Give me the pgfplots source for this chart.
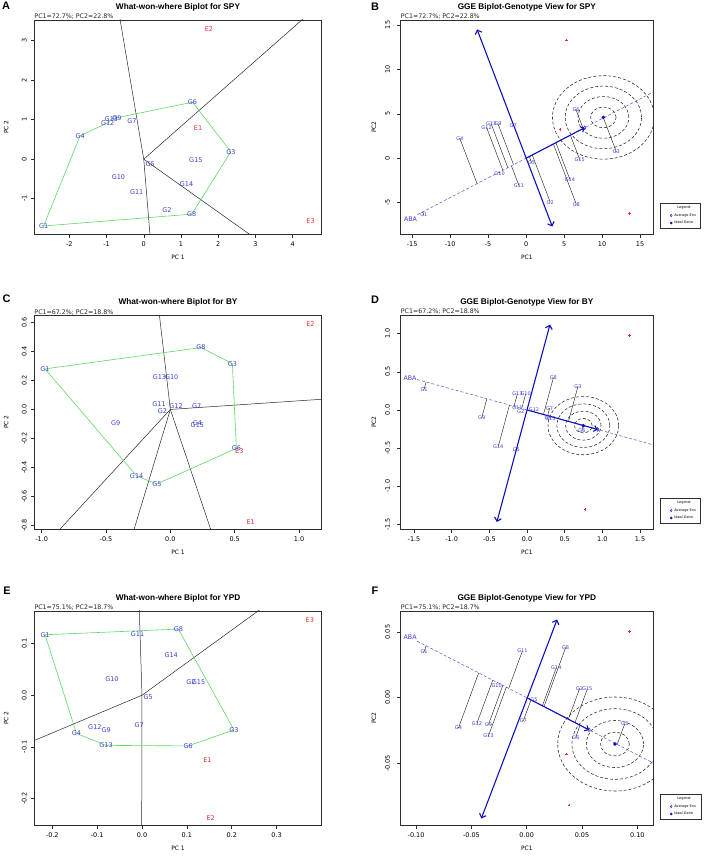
\documentclass[border=0pt]{standalone}
\usepackage{pgfplots}
\pgfplotsset{compat=1.18}
\usepackage{fontspec}
\setmainfont{DejaVu Sans}
\newfontfamily\titlefont{Liberation Sans}
\usetikzlibrary{arrows.meta}

\definecolor{lblue}{RGB}{60,60,215}
\definecolor{lred}{RGB}{225,45,45}
\definecolor{pgreen}{RGB}{95,215,95}
\definecolor{dblue}{RGB}{15,15,190}
\definecolor{ablue}{RGB}{95,95,210}
\definecolor{axgray}{RGB}{45,45,45}

\newcommand{\fs}[1]{\fontsize{#1}{#1}\selectfont}
\newcommand{\deco}[4]{%
  \node[anchor=base west, inner sep=0pt, font=\fs{6.3}, text=black!85, yshift=1bp] at (0,1) {#1};
  \node[anchor=center, inner sep=0pt, font=\titlefont\bfseries\fs{11}, xshift=#3bp, yshift=#4bp] at (0,1) {#2};
}
\newcommand{\lgd}{%
  \addlegendimage{empty legend}\addlegendentry{\hspace{3bp}Legend:}
  \addlegendimage{only marks, mark=diamond, mark size=1.2bp, dblue, mark options={line width=0.4pt}}\addlegendentry{Average Env}
  \addlegendimage{only marks, mark=*, mark size=1.1bp, dblue}\addlegendentry{Ideal Geno}
}
\tikzset{circ/.style={black!85, line width=0.55pt, dash pattern=on 3bp off 2bp}}

\pgfplotsset{
  rbase/.style={
    anchor=south west, scale only axis, enlargelimits=false, scaled ticks=false,
    axis line style={axgray, line width=0.7pt},
    tick pos=left, tick align=outside, major tick length=3.5bp,
    tick style={axgray, line width=0.5pt},
    /pgf/number format/assume math mode=true,
    ticklabel style={font=\fs{6.5}, inner sep=0pt},
    xticklabel style={anchor=north},
    yticklabel style={rotate=90, anchor=south},
    xticklabel shift=4bp,
    label style={font=\fs{6}},
    title style={font=\titlefont\bfseries\fs{8.3}, at={(0.5,1)}, anchor=base, yshift=5bp, inner sep=0pt},
    height=214.3bp,
  },
  wide/.style={rbase, width=287.4bp, yticklabel shift=4bp,
    xlabel style={at={(0.5,-0.1097)}, anchor=center},
    ylabel style={at={(-0.0974,0.5)}, anchor=center}},
  narrow/.style={rbase, width=252.3bp, yticklabel shift=7bp,
    xlabel style={at={(0.5,-0.1097)}, anchor=center},
    ylabel style={at={(-0.1058,0.5)}, anchor=center},
    legend style={at={(1,0)}, anchor=south west, xshift=7bp, yshift=6bp, font=\fs{3.5}, draw=axgray, line width=0.4pt, inner xsep=2.5bp, inner ysep=1bp, row sep=-0.6bp, cells={anchor=west}},
  },
  glab/.style={forget plot, only marks, mark=none, nodes near coords, nodes near coords align={center}, point meta=explicit symbolic, every node near coord/.append style={anchor=center, inner sep=0pt, font=\fs{#1}, text=lblue}},
  elab/.style={forget plot, only marks, mark=none, nodes near coords, nodes near coords align={center}, point meta=explicit symbolic, every node near coord/.append style={anchor=center, inner sep=0pt, font=\fs{#1}, text=lred}},
  ray/.style={forget plot, black!85, line width=0.5pt},
  poly/.style={forget plot, pgreen, line width=0.6pt},
  proj/.style={forget plot, black!85, line width=0.45pt, unbounded coords=jump},
  atc/.style={forget plot, ablue, line width=0.55pt, dash pattern=on 3bp off 2bp},
  dbl/.style={forget plot, dblue, line width=1.1pt, {Straight Barb[length=3.5bp,width=7bp]}-{Straight Barb[length=3.5bp,width=7bp]}},
  aec/.style={forget plot, dblue, line width=1.1pt, -{Straight Barb[length=3bp,width=6bp]}},
  envm/.style={forget plot, only marks, mark=+, mark size=1.4bp, mark options={draw=lred, line width=0.5pt}},
  ideal/.style={forget plot, only marks, mark=*, mark size=1.6bp, dblue},
  avg/.style={forget plot, only marks, mark=diamond, mark size=1.8bp, dblue, mark options={line width=0.5pt, fill=white}},
}

\begin{document}
\begin{tikzpicture}[x=1bp,y=1bp]
\path[use as bounding box] (0bp,0bp) rectangle (708bp,857bp);

%%%%%%%%%%%%%%%%%%%% A
\begin{axis}[wide, at={(34.3bp,622.7bp)}, xmin=-2.94, xmax=4.78, ymin=-1.90, ymax=3.52,
  xtick={-2,-1,0,1,2,3,4}, ytick={-1,0,1,2,3},
  title={What-won-where Biplot for SPY}, xlabel={PC 1}, ylabel={PC 2},
  extra description/.code={\deco{PC1=72.7\%; PC2=22.8\%}{A}{-28.3}{13.8}}]
\addplot[ray] coordinates {(0,0) (-0.76,4.22)};
\addplot[ray] coordinates {(0,0) (0.20,-2.28)};
\addplot[ray] coordinates {(0,0) (5.09,4.22)};
\addplot[ray] coordinates {(0,0) (3.41,-2.28)};
\addplot[poly] coordinates {(-2.69,-1.69) (-1.71,0.59) (-0.97,0.92) (-0.87,1.02) (1.31,1.44) (2.34,0.19) (1.29,-1.39) (-2.69,-1.69)};
\addplot[glab=6.5] table[meta=l] {
x y l
-2.69 -1.69 G1
0.62 -1.29 G2
2.34 0.19 G3
-1.71 0.59 G4
0.17 -0.13 G5
1.31 1.44 G6
-0.32 0.97 G7
1.29 -1.39 G8
-0.72 1.03 G9
-0.68 -0.45 G10
-0.19 -0.83 G11
-0.97 0.92 G12
-0.87 1.02 G13
1.15 -0.62 G14
1.40 -0.03 G15
};
\addplot[elab=6.5] table[meta=l] {
x y l
1.46 0.79 E1
1.75 3.29 E2
4.48 -1.58 E3
};
\end{axis}

%%%%%%%%%%%%%%%%%%%% B
\begin{axis}[narrow, at={(400.7bp,622.7bp)}, xmin=-16.5, xmax=16.7, ymin=-8.57, ymax=15.56,
  xtick={-15,-10,-5,0,5,10,15}, ytick={-5,0,5,10,15},
  title={GGE Biplot-Genotype View for SPY}, xlabel={PC1}, ylabel={PC2},
  extra description/.code={\deco{PC1=72.7\%; PC2=22.8\%}{B}{-25.7}{13}}]
\lgd
\draw[circ] (axis cs:10.17,4.59) ellipse [x radius=1.675, y radius=1.175];
\draw[circ] (axis cs:10.17,4.59) ellipse [x radius=3.35, y radius=2.35];
\draw[circ] (axis cs:10.17,4.59) ellipse [x radius=5.025, y radius=3.525];
\draw[circ] (axis cs:10.17,4.59) ellipse [x radius=6.7, y radius=4.7];
\addplot[atc] coordinates {(-14.3,-6.36) (17.5,7.79)};
\addplot[proj] coordinates {(-13.46,-6.39) (-13.61,-6.06) (nan,nan)
 (-8.72,2.22) (-6.45,-2.87) (nan,nan)
 (-5.2,3.46) (-3.055,-1.36) (nan,nan)
 (-4.6,3.87) (-2.40,-1.07) (nan,nan)
 (-3.7,3.87) (-1.65,-0.73) (nan,nan)
 (-3.49,-1.69) (-3.54,-1.58) (nan,nan)
 (-0.94,-3.08) (-1.93,-0.86) (nan,nan)
 (0.72,-0.49) (0.42,0.19) (nan,nan)
 (3.18,-4.96) (0.81,0.36) (nan,nan)
 (5.77,-2.41) (3.92,1.745) (nan,nan)
 (6.61,-5.19) (3.59,1.60) (nan,nan)
 (7.05,-0.15) (5.83,2.59) (nan,nan)
 (6.57,5.45) (7.51,3.34) (nan,nan)
 (11.88,0.71) (10.18,4.53)};
\addplot[dbl] coordinates {(-6.45,14.5) (3.45,-7.7)};
\addplot[aec] coordinates {(0,0) (7.71,3.43)};
\addplot[avg] coordinates {(7.71,3.43)};
\addplot[ideal] coordinates {(10.17,4.59)};
\addplot[envm] coordinates {(5.34,13.31) (13.59,-6.24) (4.46,3.23)};
\addplot[glab=5] table[meta=l] {
x y l
-13.46 -6.39 G1
3.18 -4.96 G2
11.88 0.71 G3
-8.72 2.22 G4
0.72 -0.49 G5
6.57 5.45 G6
-1.69 3.61 G7
6.61 -5.19 G8
-3.70 3.87 G9
-3.49 -1.69 G10
-0.94 -3.08 G11
-5.20 3.46 G12
-4.60 3.87 G13
5.77 -2.41 G14
7.05 -0.15 G15
};
\addplot[glab=6.3] table[meta=l] {
x y l
-15.2 -6.9 ABA
};
\end{axis}

%%%%%%%%%%%%%%%%%%%% C
\begin{axis}[wide, at={(34.3bp,327.7bp)}, xmin=-1.057, xmax=1.176, ymin=-0.825, ymax=0.650,
  xtick={-1,-0.5,0,0.5,1}, ytick={-0.8,-0.6,-0.4,-0.2,0,0.2,0.4,0.6},
  xticklabel style={/pgf/number format/fixed, /pgf/number format/fixed zerofill, /pgf/number format/precision=1},
  yticklabel style={/pgf/number format/fixed, /pgf/number format/fixed zerofill, /pgf/number format/precision=1},
  title={What-won-where Biplot for BY}, xlabel={PC 1}, ylabel={PC 2},
  extra description/.code={\deco{PC1=67.2\%; PC2=18.8\%}{C}{-27.6}{16.7}}]
\addplot[ray] coordinates {(0,0) (-0.102,0.78)};
\addplot[ray] coordinates {(0,0) (1.41,0.084)};
\addplot[ray] coordinates {(0,0) (0.376,-0.99)};
\addplot[ray] coordinates {(0,0) (-0.338,-0.99)};
\addplot[ray] coordinates {(0,0) (-1.03,-0.99)};
\addplot[poly] coordinates {(-0.974,0.279) (0.238,0.426) (0.482,0.315) (0.513,-0.268) (-0.104,-0.513) (-0.262,-0.458) (-0.974,0.279)};
\addplot[glab=6.5] table[meta=l] {
x y l
-0.974 0.279 G1
-0.062 -0.015 G2
0.482 0.315 G3
0.21 -0.095 G4
-0.104 -0.513 G5
0.513 -0.268 G6
0.205 0.026 G7
0.238 0.426 G8
-0.425 -0.095 G9
0.01 0.219 G10
-0.088 0.036 G11
0.044 0.022 G12
-0.085 0.219 G13
-0.262 -0.458 G14
0.21 -0.111 G15
};
\addplot[elab=6.5] table[meta=l] {
x y l
0.624 -0.779 E1
1.088 0.586 E2
0.536 -0.284 E3
};
\end{axis}

%%%%%%%%%%%%%%%%%%%% D
\begin{axis}[narrow, at={(400.7bp,327.7bp)}, xmin=-1.677, xmax=1.673, ymin=-1.566, ymax=1.246,
  xtick={-1.5,-1,-0.5,0,0.5,1,1.5}, ytick={-1.5,-1,-0.5,0,0.5,1},
  xticklabel style={/pgf/number format/fixed, /pgf/number format/fixed zerofill, /pgf/number format/precision=1},
  yticklabel style={/pgf/number format/fixed, /pgf/number format/fixed zerofill, /pgf/number format/precision=1},
  title={GGE Biplot-Genotype View for BY}, xlabel={PC1}, ylabel={PC2},
  extra description/.code={\deco{PC1=67.2\%; PC2=18.8\%}{D}{-25.7}{15.7}}]
\lgd
\draw[circ] (axis cs:0.748,-0.206) ellipse [x radius=0.117, y radius=0.095];
\draw[circ] (axis cs:0.748,-0.206) ellipse [x radius=0.235, y radius=0.19];
\draw[circ] (axis cs:0.748,-0.206) ellipse [x radius=0.352, y radius=0.286];
\draw[circ] (axis cs:0.748,-0.206) ellipse [x radius=0.469, y radius=0.382];
\addplot[atc] coordinates {(-1.46,0.40) (1.75,-0.478)};
\addplot[proj] coordinates {(-1.367,0.268) (-1.340,0.366) (nan,nan)
 (-0.602,-0.105) (-0.533,0.146) (nan,nan)
 (-0.381,-0.478) (-0.233,0.064) (nan,nan)
 (-0.128,0.21) (-0.1725,0.047) (nan,nan)
 (-0.018,0.21) (-0.070,0.019) (nan,nan)
 (0.35,0.421) (0.2187,-0.0597) (nan,nan)
 (0.677,0.311) (0.551,-0.1505) (nan,nan)
 (0.30,0.022) (0.2736,-0.0747) (nan,nan)
 (0.73,-0.268) (0.7475,-0.204)};
\addplot[dbl] coordinates {(0.305,1.12) (-0.40,-1.47)};
\addplot[aec] coordinates {(0,0) (0.938,-0.256)};
\addplot[avg] coordinates {(0.938,-0.256)};
\addplot[ideal] coordinates {(0.748,-0.206)};
\addplot[envm] coordinates {(1.358,0.982) (0.77,-1.303)};
\addplot[glab=5] table[meta=l] {
x y l
-1.367 0.268 G1
-0.084 -0.018 G2
0.677 0.311 G3
0.28 -0.105 G4
-0.142 -0.522 G5
0.73 -0.268 G6
0.30 0.022 G7
0.35 0.421 G8
-0.602 -0.105 G9
-0.018 0.21 G10
-0.128 0.035 G11
0.093 0.004 G12
-0.128 0.21 G13
-0.381 -0.478 G14
0.31 -0.118 G15
};
\addplot[glab=6.3] table[meta=l] {
x y l
-1.553 0.421 ABA
};
\end{axis}

%%%%%%%%%%%%%%%%%%%% E
\begin{axis}[wide, at={(34.3bp,31.7bp)}, xmin=-0.240, xmax=0.4005, ymin=-0.2516, ymax=0.163,
  xtick={-0.2,-0.1,0,0.1,0.2,0.3}, ytick={-0.2,-0.1,0,0.1},
  xticklabel style={/pgf/number format/fixed, /pgf/number format/fixed zerofill, /pgf/number format/precision=1},
  yticklabel style={/pgf/number format/fixed, /pgf/number format/fixed zerofill, /pgf/number format/precision=1},
  title={What-won-where Biplot for YPD}, xlabel={PC 1}, ylabel={PC 2},
  extra description/.code={\deco{PC1=75.1\%; PC2=18.7\%}{E}{-27.3}{20}}]
\addplot[ray] coordinates {(0,0) (-0.0072,0.196)};
\addplot[ray] coordinates {(0,0) (-0.0008,-0.302)};
\addplot[ray] coordinates {(0,0) (-0.288,-0.105)};
\addplot[ray] coordinates {(0,0) (0.311,0.196)};
\addplot[poly] coordinates {(-0.216,0.117) (0.081,0.128) (0.205,-0.067) (0.103,-0.098) (-0.080,-0.097) (-0.146,-0.074) (-0.216,0.117)};
\addplot[glab=6.5] table[meta=l] {
x y l
-0.216 0.117 G1
0.109 0.0245 G2
0.205 -0.067 G3
-0.146 -0.074 G4
0.014 -0.004 G5
0.103 -0.098 G6
-0.006 -0.058 G7
0.081 0.128 G8
-0.080 -0.068 G9
-0.067 0.031 G10
-0.010 0.119 G11
-0.105 -0.062 G12
-0.080 -0.097 G13
0.065 0.077 G14
0.126 0.0245 G15
};
\addplot[elab=6.5] table[meta=l] {
x y l
0.146 -0.126 E1
0.153 -0.237 E2
0.374 0.146 E3
};
\end{axis}

%%%%%%%%%%%%%%%%%%%% F
\begin{axis}[narrow, at={(400.7bp,31.7bp)}, xmin=-0.1139, xmax=0.1142, ymin=-0.0972, ymax=0.066,
  xtick={-0.1,-0.05,0,0.05,0.1}, ytick={-0.05,0,0.05},
  xticklabel style={/pgf/number format/fixed, /pgf/number format/fixed zerofill, /pgf/number format/precision=2},
  yticklabel style={/pgf/number format/fixed, /pgf/number format/fixed zerofill, /pgf/number format/precision=2},
  title={GGE Biplot-Genotype View for YPD}, xlabel={PC1}, ylabel={PC2},
  extra description/.code={\deco{PC1=75.1\%; PC2=18.7\%}{F}{-25.7}{20}}]
\lgd
\draw[circ] (axis cs:0.0798,-0.0353) ellipse [x radius=0.0130, y radius=0.0090];
\draw[circ] (axis cs:0.0798,-0.0353) ellipse [x radius=0.0259, y radius=0.0179];
\draw[circ] (axis cs:0.0798,-0.0353) ellipse [x radius=0.0389, y radius=0.0269];
\draw[circ] (axis cs:0.0798,-0.0353) ellipse [x radius=0.0518, y radius=0.0358];
\addplot[atc] coordinates {(-0.099,0.043) (0.12,-0.0522)};
\addplot[proj] coordinates {(-0.0928,0.035) (-0.0909,0.0395) (nan,nan)
 (-0.0039,0.0355) (-0.01627,0.00708) (nan,nan)
 (0.0352,0.0381) (0.01566,-0.00681) (nan,nan)
 (0.0268,0.0228) (0.0142,-0.0062) (nan,nan)
 (-0.0617,-0.0231) (-0.0434,0.0189) (nan,nan)
 (-0.045,-0.0195) (-0.0307,0.01336) (nan,nan)
 (-0.0346,-0.0206) (-0.02156,0.00938) (nan,nan)
 (-0.0346,-0.0292) (-0.0184,0.0080) (nan,nan)
 (-0.003,-0.0175) (0.00388,-0.00169) (nan,nan)
 (0.0479,0.0071) (0.03768,-0.0164) (nan,nan)
 (0.0548,0.0066) (0.04367,-0.019) (nan,nan)
 (0.0443,-0.0302) (0.0483,-0.021) (nan,nan)
 (0.0886,-0.020) (0.0818,-0.0356)};
\addplot[dbl] coordinates {(0.0275,0.0595) (-0.041,-0.092)};
\addplot[aec] coordinates {(0,0) (0.0563,-0.0245)};
\addplot[avg] coordinates {(0.0563,-0.0245)};
\addplot[ideal] coordinates {(0.0798,-0.0353)};
\addplot[envm] coordinates {(0.0928,0.0503) (0.0383,-0.0817) (0.0358,-0.0429)};
\addplot[glab=5] table[meta=l] {
x y l
-0.0928 0.035 G1
0.0479 0.0071 G2
0.0886 -0.020 G3
-0.0617 -0.0231 G4
0.0066 -0.0013 G5
0.0443 -0.0302 G6
-0.003 -0.0175 G7
0.0352 0.0381 G8
-0.0346 -0.0206 G9
-0.0271 0.0091 G10
-0.0039 0.0355 G11
-0.045 -0.0195 G12
-0.0346 -0.0292 G13
0.0268 0.0228 G14
0.0548 0.0066 G15
};
\addplot[glab=6.3] table[meta=l] {
x y l
-0.1054 0.0462 ABA
};
\end{axis}
\end{tikzpicture}
\end{document}
